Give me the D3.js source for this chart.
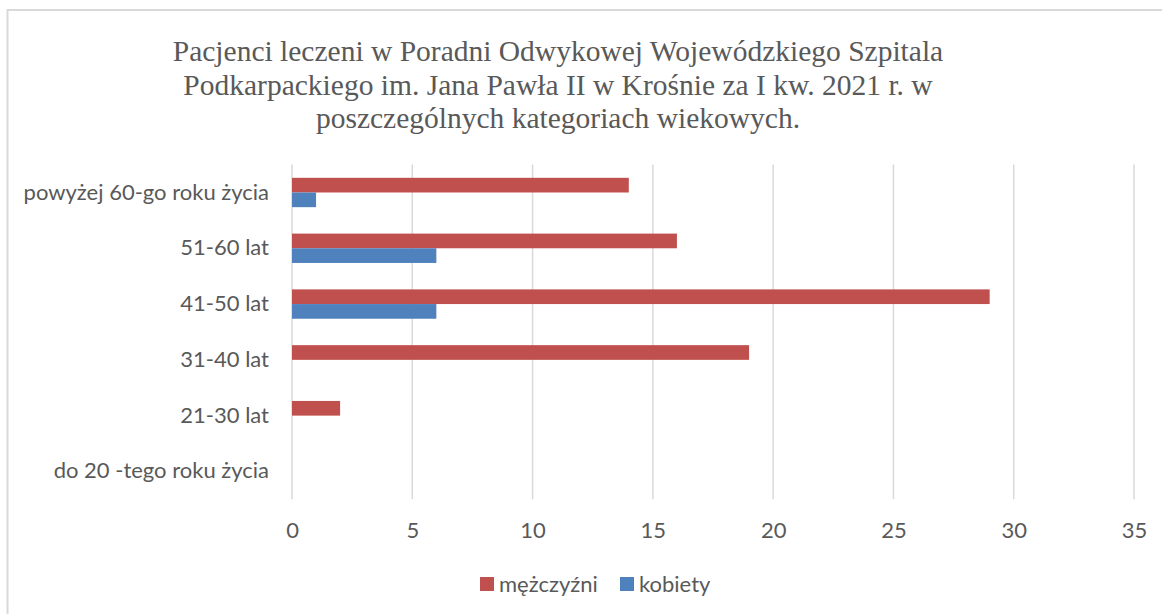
<!DOCTYPE html>
<html><head><meta charset="utf-8">
<script src="https://cdn.jsdelivr.net/npm/d3@7"></script>
<style>
html,body{margin:0;padding:0;background:#fff;}
svg{display:block;}
</style></head>
<body>
<script>
const titleLines = ["Pacjenci leczeni w Poradni Odwykowej Wojewódzkiego Szpitala",
  "Podkarpackiego im. Jana Pawła II w Krośnie za I kw. 2021 r. w",
  "poszczególnych kategoriach wiekowych."];
const categories = ["powyżej 60-go roku życia","51-60 lat","41-50 lat","31-40 lat","21-30 lat","do 20 -tego roku życia"];
const seriesNames = ["mężczyźni","kobiety"];
const men = [14,16,29,19,2,0];
const women = [1,6,6,0,0,0];
const xTicks = [0,5,10,15,20,25,30,35];
const colors = ["#C0504D","#4F81BD"];

const W = 1162, H = 614;
const svg = d3.select("body").append("svg").attr("width",W).attr("height",H);

svg.append("rect").attr("x",7.5).attr("y",10).attr("width",1200).attr("height",700)
  .attr("fill","none").attr("stroke","#d9d9d9").attr("stroke-width",2);

const txt = "#595959";
const sans = "Lato, 'Open Sans', sans-serif";

svg.append("g").selectAll("text").data(titleLines).join("text")
  .attr("x",558).attr("y",(d,i)=>61+i*33.5)
  .attr("text-anchor","middle").attr("fill",txt)
  .attr("font-family","'Liberation Serif', 'Times New Roman', serif")
  .attr("font-size",29.5).text(d=>d);

const x = d3.scaleLinear().domain([0,35]).range([292,1134]);
const y = d3.scaleBand().domain(categories).range([164.6,499.3]).paddingInner(0).paddingOuter(0);
const ys = d3.scaleBand().domain(seriesNames).range([0,y.bandwidth()]).paddingInner(0).paddingOuter(0.9);

// gridlines
svg.append("g").selectAll("line").data(xTicks).join("line")
  .attr("x1",d=>x(d)).attr("x2",d=>x(d)).attr("y1",164.6).attr("y2",499.3)
  .attr("stroke","#d9d9d9").attr("stroke-width",1.5);

// x axis labels
const xAxis = d3.axisBottom(x).tickValues(xTicks).tickSize(0).tickPadding(0);
const gx = svg.append("g").attr("transform","translate(0,530)").call(xAxis);
gx.select(".domain").remove();
gx.selectAll("text").attr("font-family",sans).attr("font-size",22).attr("fill",txt).attr("dy","0.35em");

// y axis labels
const yAxis = d3.axisLeft(y).tickSize(0).tickPadding(0);
const gy = svg.append("g").attr("transform","translate(269,0)").call(yAxis);
gy.select(".domain").remove();
gy.selectAll("text").attr("font-family",sans).attr("font-size",22).attr("fill",txt);

const data = [men, women];
data.forEach((vals,si)=>{
  svg.append("g").selectAll("rect").data(vals).join("rect")
    .attr("x",x(0))
    .attr("y",(d,i)=>y(categories[i])+ys(seriesNames[si]))
    .attr("width",d=>x(d)-x(0))
    .attr("height",ys.bandwidth())
    .attr("fill",colors[si]);
});

// legend
const legendX = [480,620];
const lg = svg.append("g");
seriesNames.forEach((s,i)=>{
  lg.append("rect").attr("x",legendX[i]).attr("y",577).attr("width",14).attr("height",14).attr("fill",colors[i]);
  lg.append("text").attr("x",legendX[i]+19).attr("y",584).attr("dy","0.35em")
    .attr("font-family",sans).attr("font-size",22).attr("fill",txt).text(s);
});
</script>
</body></html>
